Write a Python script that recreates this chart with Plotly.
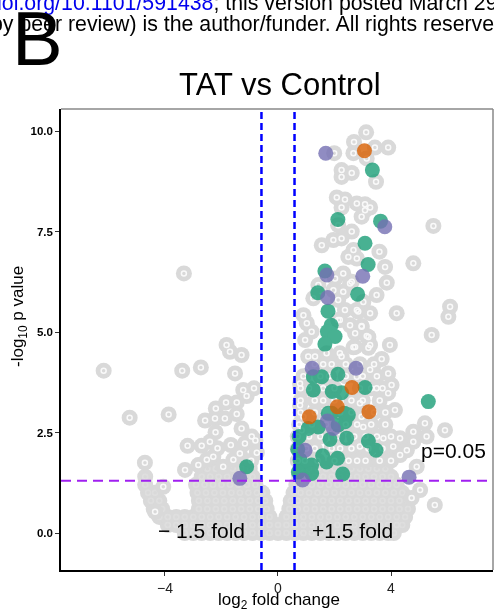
import math
import plotly.graph_objects as go

# ---------------- data ----------------
# individually visible grey (non-highlighted) genes
gray_x = [-6.17, -3.39, -2.73, -3.33, -5.25, -3.87, -1.82, -1.70, -1.29, -1.52, -1.23, -1.11,
          -1.84, -1.46, -2.20, -1.46, -2.58, -2.23, -1.88, -2.21, -1.29, -0.93, -3.20, -2.70,
          -2.41, -2.14, -1.67, -1.17, -4.71, -3.29, -2.82, -2.52, -2.29, -1.94, -1.58, -1.35,
          -4.06, -4.35, -0.85, -0.80, -0.75, -0.95,
          3.12, 2.69, 3.43, 3.90, 2.67, 1.99, 3.14, 2.25, 2.61, 2.25, 3.47,
          2.08, 2.37, 2.25, 2.79, 3.08, 3.26, 2.96, 3.08, 5.50,
          2.13, 2.61, 2.25, 1.96, 1.55, 2.67, 3.59, 2.49, 2.79, 3.79, 4.79,
          2.31, 2.02, 2.61, 3.85, 1.43, 2.31, 1.96, 3.49, 1.25, 2.13, 3.02,
          2.37, 2.84, 3.26, 4.20, 6.09, 6.03, 0.90, 1.02, 2.13, 2.55, 2.96,
          1.19, 2.73, 3.20, 0.96, 5.44, 3.96, 2.73, 3.20, 3.67,
          3.26, 3.90, 4.02, 3.49, 3.90, 4.14, 2.90, 5.20, 5.91, 4.32, 4.79, 5.26, 3.73, 3.02, 2.96,
          4.08, 4.56, 4.32, 2.90, 0.78, 0.90, 0.84, 1.07, 1.72, 2.19, 0.78, 2.79,
          4.79, 5.55, 4.91, 5.03, 4.73,
          2.55, 2.79, 2.19, 2.96, 3.14, 2.67, 3.26, 1.31, 2.25,
          1.3, 1.6, 1.9, 2.4, 2.9, 3.4,
          0.9, 1.5, 1.8, 2.4, 3.0, 3.5,
          0.8, 1.1, 1.6, 2.0, 2.9, 3.3, 3.7,
          0.8, 1.3, 1.6, 2.0, 2.6, 3.0, 3.6,
          0.8, 1.3, 2.2, 2.6, 3.4, 3.8,
          0.75, 1.2, 1.7, 2.4, 2.8, 3.3, 3.8,
          0.7, 1.1, 1.5, 2.1, 2.7, 3.1, 3.5, 4.0,
          0.7, 1.0, 1.3, 1.9, 2.2, 2.6, 3.2, 3.7,
          0.7, 0.95, 1.4, 2.0, 2.5, 2.8, 3.1, 3.6, 4.0]
gray_y = [4.04, 4.04, 4.12, 6.46, 2.87, 2.95, 4.68, 4.51, 4.43, 3.97, 3.56, 3.41,
          3.25, 3.25, 3.10, 2.96, 2.80, 2.85, 2.85, 2.51, 2.60, 2.40, 2.17, 2.17,
          2.27, 2.11, 2.19, 2.23, 1.75, 1.57, 1.69, 1.82, 1.90, 1.65, 1.82, 1.98,
          1.15, 0.53, 3.60, 2.30, 2.00, 1.80,
          9.97, 9.73, 9.59, 9.59, 9.45, 9.45, 9.32, 9.03, 8.96, 8.86, 8.74,
          8.35, 8.30, 8.10, 8.20, 8.18, 8.10, 7.87, 8.03, 7.64,
          7.66, 7.50, 7.33, 7.29, 7.16, 7.04, 7.00, 6.87, 6.83, 6.62, 6.71,
          6.46, 6.33, 6.25, 6.23, 6.17, 6.00, 6.04, 5.92, 5.84, 5.80, 5.75,
          5.55, 5.51, 5.47, 5.47, 5.63, 5.38, 5.42, 5.22, 5.30, 5.17, 5.13,
          5.01, 4.97, 4.88, 4.80, 4.93, 4.68, 4.63, 4.61, 4.33,
          4.06, 3.97, 3.68, 3.60, 3.48, 3.06, 3.23, 2.73, 2.56, 2.36, 2.27, 2.40, 2.36, 2.64, 2.89,
          2.15, 2.06, 1.94, 2.15, 3.18, 2.89, 2.56, 4.39, 4.47, 4.47, 3.72, 3.89,
          2.52, 0.70, 1.65, 1.07, 0.87,
          6.21, 5.55, 5.30, 5.15, 4.90, 4.62, 4.68, 4.39, 4.39,
          4.2, 4.2, 4.2, 4.2, 4.2, 4.2,
          3.9, 3.9, 3.9, 3.9, 3.9, 3.9,
          3.6, 3.6, 3.6, 3.6, 3.6, 3.6, 3.6,
          3.3, 3.3, 3.3, 3.3, 3.3, 3.3, 3.3,
          3.0, 3.0, 3.0, 3.0, 3.0, 3.0,
          2.7, 2.7, 2.7, 2.7, 2.7, 2.7, 2.7,
          2.4, 2.4, 2.4, 2.4, 2.4, 2.4, 2.4, 2.4,
          2.1, 2.1, 2.1, 2.1, 2.1, 2.1, 2.1, 2.1,
          1.8, 1.8, 1.8, 1.8, 1.8, 1.8, 1.8, 1.8, 1.8]

# dense core of the volcano (rows of overlapping grey genes)
mass_row_y = [0.0, 0.2, 0.4, 0.6, 0.8, 1.0, 1.2, 1.4, 1.6]
mass_row_x = [
    [-3.3, -3.0, -2.7, -2.4, -2.1, -1.8, -1.5, -1.2, -0.9, -0.6, -0.3, 0.0, 0.3, 0.6, 0.9, 1.2,
     1.5, 1.8, 2.1, 2.4, 2.7, 3.0, 3.3, 3.6, 3.9, 4.1],
    [-3.9, -3.6, -3.3, -3.0, -2.7, -2.4, -2.1, -1.8, -1.5, -1.2, -0.9, -0.6, -0.3, 0.0, 0.3, 0.6,
     0.9, 1.2, 1.5, 1.8, 2.1, 2.4, 2.7, 3.0, 3.3, 3.6, 3.9, 4.2, 4.4],
    [-4.2, -3.9, -3.6, -3.3, -3.0, -2.7, -2.4, -2.1, -1.8, -1.5, -1.2, -0.9, -0.6, -0.3, 0.3, 0.6,
     0.9, 1.2, 1.5, 1.8, 2.1, 2.4, 2.7, 3.0, 3.3, 3.6, 3.9, 4.2, 4.5],
    [-4.4, -4.1, -2.8, -2.5, -2.2, -1.9, -1.6, -1.3, -1.0, -0.7, -0.4, 0.4, 0.7, 1.0, 1.3, 1.6,
     1.9, 2.2, 2.5, 2.8, 3.1, 3.4, 3.7, 4.0, 4.3, 4.6],
    [-4.5, -4.2, -2.8, -2.5, -2.2, -1.9, -1.6, -1.3, -1.0, -0.7, -0.45, 0.45, 0.7, 1.0, 1.3, 1.6,
     1.9, 2.2, 2.5, 2.8, 3.1, 3.4, 3.7, 4.0, 4.3, 4.6],
    [-4.6, -4.35, -2.85, -2.55, -2.25, -1.95, -1.65, -1.35, -1.05, -0.75, -0.55, 0.55, 0.8, 1.1,
     1.4, 1.7, 2.0, 2.3, 2.6, 2.9, 3.2, 3.5, 3.8, 4.1, 4.4],
    [-4.7, -2.9, -2.6, -2.3, -2.0, -1.7, -1.4, -1.1, -0.8, 0.65, 0.9, 1.2, 1.5, 1.8, 2.1, 2.4,
     2.7, 3.0, 3.3, 3.6, 3.9, 4.2],
    [-4.7, -2.7, -2.4, -2.1, -1.8, -1.5, -1.2, -0.9, 0.75, 1.0, 1.3, 1.6, 1.9, 2.2, 2.5, 2.8,
     3.1, 3.4, 3.7, 4.0],
    [-2.5, -2.2, -1.9, -1.6, -1.3, -1.0, 0.8, 1.1, 1.4, 1.7, 2.0, 2.3, 2.6, 2.9, 3.2, 3.5, 3.8],
]

# highlighted gene groups
green_x = [3.34, 2.12, 3.63, 3.08, 3.19, 1.66, 1.41, 2.82, 1.77, 1.88, 1.75, 2.02, 1.66,
           1.25, 2.12, 1.55, 3.08, 1.25, 1.92, 2.25, 5.32, 1.90, 2.35, 1.43, 1.07, 2.37, 2.13,
           0.75, 1.84, 2.43, 3.20, 3.47, 0.70, 1.58, 2.11, 0.78, 1.19, 1.02, 1.72, 2.29, 0.72,
           1.19, 1.78, 2.49, -1.11]
green_y = [9.03, 7.80, 7.76, 7.21, 6.68, 6.52, 5.98, 5.94, 5.52, 5.17, 5.01, 4.89, 4.70,
           3.89, 3.95, 3.89, 3.62, 3.56, 3.52, 3.49, 3.27, 2.98, 2.98, 2.64, 2.60, 2.77, 2.69,
           2.40, 2.33, 2.36, 2.29, 2.06, 2.08, 1.92, 1.86, 1.82, 1.69, 1.65, 1.77, 1.47, 1.52,
           1.48, 2.98, 2.94, 1.65]
orange_x = [3.06, 2.62, 2.10, 3.22, 1.11]
orange_y = [9.51, 3.62, 3.14, 3.02, 2.89]
purple_x = [1.69, 3.78, 1.73, 3.00, 1.76, 1.21, 2.76, 1.75, 1.96, 0.96, 0.87, 4.64, -1.35]
purple_y = [9.45, 7.62, 6.42, 6.39, 5.86, 4.10, 4.10, 2.79, 2.60, 2.06, 1.32, 1.39, 1.36]

x_ticks = [-4, 0, 4]
y_ticks = [0, 2.5, 5, 7.5, 10]
y_tick_text = ["0.0", "2.5", "5.0", "7.5", "10.0"]
fold_threshold = 1.5
p_threshold = 0.05

# ---------------- figure ----------------
FONT = "Liberation Sans, Arial, sans-serif"
mass_x, mass_y = [], []
for yv, row in zip(mass_row_y, mass_row_x):
    mass_x += row
    mass_y += [yv] * len(row)

GREY = "#d9d9d9"
fig = go.Figure()
fig.add_trace(go.Scatter(x=mass_x, y=mass_y, mode="markers", hoverinfo="skip",
                         marker=dict(size=16, color=GREY, line=dict(width=0))))
fig.add_trace(go.Scatter(x=mass_x, y=mass_y, mode="markers", hoverinfo="skip", opacity=0.15,
                         marker=dict(symbol="circle-open", size=5, color="white", line=dict(width=1.5))))
fig.add_trace(go.Scatter(x=gray_x, y=gray_y, mode="markers", hoverinfo="skip",
                         marker=dict(size=16, color=GREY, line=dict(width=0))))
fig.add_trace(go.Scatter(x=gray_x, y=gray_y, mode="markers", hoverinfo="skip", opacity=0.85,
                         marker=dict(symbol="circle-open", size=5, color="white", line=dict(width=1.5))))
for xs, ys, col in [(green_x, green_y, "#1B9E77"), (orange_x, orange_y, "#D95F02"),
                    (purple_x, purple_y, "#7570B3")]:
    fig.add_trace(go.Scatter(x=xs, y=ys, mode="markers", hoverinfo="skip", opacity=0.8,
                             marker=dict(size=15, color=col, line=dict(width=0))))

lfc = math.log2(fold_threshold)
pl = -math.log10(p_threshold)
shapes = [
    dict(type="line", xref="x", yref="paper", x0=-lfc, x1=-lfc, y0=0, y1=1,
         line=dict(color="#0000ff", width=2.5, dash="7px,4px")),
    dict(type="line", xref="x", yref="paper", x0=lfc, x1=lfc, y0=0, y1=1,
         line=dict(color="#0000ff", width=2.5, dash="7px,4px")),
    dict(type="line", xref="paper", yref="y", x0=0, x1=1, y0=pl, y1=pl,
         line=dict(color="#a020f0", width=1.8, dash="10px,6px")),
    dict(type="line", xref="paper", yref="paper", x0=0, x1=1, y0=1, y1=1,
         line=dict(color="#888888", width=1.5)),
    dict(type="line", xref="paper", yref="paper", x0=1, x1=1, y0=0, y1=1,
         line=dict(color="#888888", width=1.5)),
]

L, T, W, H = 61, 109, 432, 461


def px(xp):
    return (xp - L) / W


def py(yp):
    return (T + H - yp) / H


annotations = [
    dict(text="<span style='color:#0000ee'>doi.org/10.1101/591438</span>; this version posted March 29, 2019.",
         x=px(-11.9), y=py(2.5), xanchor="left", yanchor="middle",
         font=dict(size=21.3, color="black", family=FONT)),
    dict(text="by peer review) is the author/funder. All rights reserved. No reuse allowed without permission.",
         x=px(-11.5), y=py(24.5), xanchor="left", yanchor="middle",
         font=dict(size=21.3, color="black", family=FONT)),
    dict(text="B", x=px(10), y=py(38), xanchor="left", yanchor="middle",
         font=dict(size=76, color="black", family=FONT)),
    dict(text="TAT vs Control", x=px(279.5), y=py(84), xanchor="center", yanchor="middle",
         font=dict(size=31, color="black", family=FONT)),
    dict(text="\u2212 1.5 fold", x=px(201.5), y=py(530.5), xanchor="center", yanchor="middle",
         font=dict(size=21, color="black", family=FONT)),
    dict(text="+1.5 fold", x=px(352.5), y=py(530), xanchor="center", yanchor="middle",
         font=dict(size=21, color="black", family=FONT)),
    dict(text="p=0.05", x=px(453), y=py(450.5), xanchor="center", yanchor="middle",
         font=dict(size=21, color="black", family=FONT)),
    dict(text="log<sub>2</sub> fold change", x=px(279), y=py(601), xanchor="center", yanchor="middle",
         font=dict(size=17, color="black", family=FONT)),
    dict(text="-log<sub>10</sub> p value", x=px(19), y=py(317), xanchor="center", yanchor="middle",
         textangle=-90, font=dict(size=17, color="black", family=FONT)),
]
for a in annotations:
    a.update(xref="paper", yref="paper", showarrow=False)

fig.update_layout(
    width=494, height=613, autosize=False,
    margin=dict(l=L, r=1, t=T, b=613 - T - H, pad=0),
    paper_bgcolor="white", plot_bgcolor="white",
    showlegend=False,
    font=dict(family=FONT, color="black"),
    shapes=shapes, annotations=annotations,
    xaxis=dict(range=[-7.68, 7.61], tickvals=x_ticks, ticks="outside", ticklen=4, tickwidth=1,
               tickcolor="#333333", showline=True, linecolor="black", linewidth=1.5,
               showgrid=False, zeroline=False, tickfont=dict(size=14, color="#222222", family=FONT)),
    yaxis=dict(range=[-0.92, 10.55], tickvals=y_ticks, ticktext=y_tick_text, ticks="outside",
               ticklen=4, tickwidth=1, tickcolor="#333333", showline=True, linecolor="black",
               linewidth=1.5, showgrid=False, zeroline=False,
               tickfont=dict(size=11.5, color="black", family=FONT, weight="bold")),
)

fig.write_html("out.html", config={"displayModeBar": False},
               post_script="document.body.style.margin='0';document.body.style.overflow='hidden';")
